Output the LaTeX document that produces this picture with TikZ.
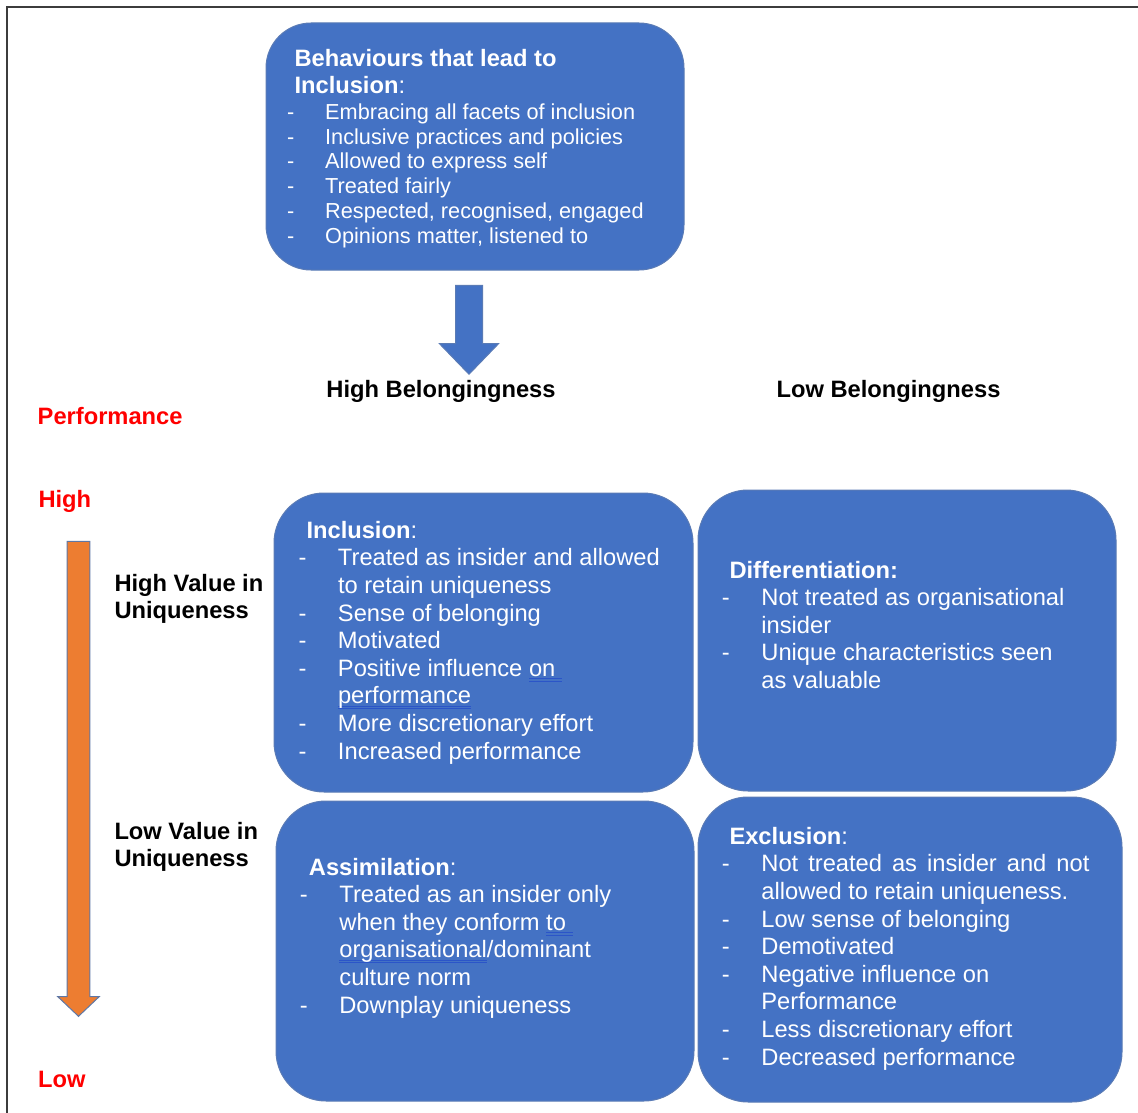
\documentclass[tikz,border=0pt]{standalone}
\usepackage{fontspec}
\setmainfont{Liberation Sans}
\usetikzlibrary{shapes.arrows}
\definecolor{boxblue}{HTML}{4472C4}
\definecolor{boxedge}{HTML}{5A7BB5}
\definecolor{perforange}{HTML}{ED7D31}
\definecolor{perfedge}{HTML}{5E77A6}
\definecolor{gramblue}{HTML}{2B55C8}
\definecolor{framegray}{HTML}{3C3C3C}
\newcommand{\itm}[1][39.5pt]{\makebox[#1][l]{-}}
\newcommand{\cnt}[1][39.5pt]{\hspace*{#1}}
\newlength{\gramw}
\newcommand{\gram}[1]{\settowidth{\gramw}{#1}\rlap{\color{gramblue}\rule[-2.5pt]{\gramw}{0.6pt}\hspace*{-\gramw}\rule[-5pt]{\gramw}{0.6pt}}#1}

\tikzset{
  quad/.style={draw=boxedge, line width=1pt, fill=boxblue, rounded corners=50pt, inner sep=0pt},
  quadtxt/.style={text=white, align=left, inner sep=0pt, anchor=base west, font=\fontsize{23.7}{27.6}\selectfont},
  behtxt/.style={quadtxt, font=\fontsize{21.7}{24.8}\selectfont},
  sidelbl/.style={anchor=base west, inner sep=0pt, align=left, font=\bfseries\fontsize{23.7}{27.5}\selectfont},
  perflbl/.style={sidelbl, text=red},
  colhead/.style={anchor=base, inner sep=0pt, font=\bfseries\fontsize{23.7}{27.5}\selectfont},
  downarrow/.style={single arrow, rotate=-90, anchor=tip, inner xsep=0pt, line width=1pt}
}

\begin{document}
\begin{tikzpicture}[x=1pt,y=-1pt]
\useasboundingbox (0,0) rectangle (1138,1113);
\draw[framegray, line width=1.5pt] (7,1113) -- (7,7) -- (1138,7);

% boxes
\node[quad, rounded corners=45pt, minimum width=418pt, minimum height=247pt] (beh) at (475,146.5) {};
\node[quad, minimum width=419pt, minimum height=299pt] (incl) at (483.5,642.5) {};
\node[quad, minimum width=418pt, minimum height=301pt] (diff) at (907,640.5) {};
\node[quad, minimum width=418pt, minimum height=300pt] (assim) at (485,951) {};
\node[quad, minimum width=424pt, minimum height=305pt] (excl) at (910,949.5) {};

% texts (placed by the baseline of their last line)
\node[quadtxt] (beh-h) at (294.3,94) {\textbf{Behaviours that lead to}\\\textbf{Inclusion}:};
\node[behtxt] (beh-l) at (287,243.3) {\itm[38pt]Embracing all facets of inclusion\\
  \itm[38pt]Inclusive practices and policies\\
  \itm[38pt]Allowed to express self\\
  \itm[38pt]Treated fairly\\
  \itm[38pt]Respected, recognised, engaged\\
  \itm[38pt]Opinions matter, listened to};

\node[quadtxt] (incl-t) at (298.3,759) {\hspace*{8pt}\textbf{Inclusion}:\\
  \itm Treated as insider and allowed\\
  \cnt to retain uniqueness\\
  \itm Sense of belonging\\
  \itm Motivated\\
  \itm Positive influence \gram{on\ }\\
  \cnt\gram{performance}\\
  \itm More discretionary effort\\
  \itm Increased performance};

\node[quadtxt] (diff-t) at (721.7,688.5) {\hspace*{7.6pt}\textbf{Differentiation:}\\
  \itm Not treated as organisational\\
  \cnt insider\\
  \itm Unique characteristics seen\\
  \cnt as valuable};

\node[quadtxt] (assim-t) at (299.7,1013) {\hspace*{9pt}\textbf{Assimilation}:\\
  \itm Treated as an insider only\\
  \cnt when they conform \gram{to\ }\\
  \cnt\gram{organisational}/dominant\\
  \cnt culture norm\\
  \itm Downplay uniqueness};

\node[quadtxt] (excl-t) at (721.7,1065) {\hspace*{7.6pt}\textbf{Exclusion}:\\
  \itm\makebox[328pt][s]{Not treated as insider and not}\\
  \cnt allowed to retain uniqueness.\\
  \itm Low sense of belonging\\
  \itm Demotivated\\
  \itm Negative influence on\\
  \cnt Performance\\
  \itm Less discretionary effort\\
  \itm Decreased performance};

% labels
\node[colhead] (hb) at (441,397) {High Belongingness};
\node[colhead] (lb) at (888.5,397) {Low Belongingness};
\node[perflbl] (perf) at (37.5,424) {Performance};
\node[perflbl] (high) at (38.3,507.3) {High};
\node[perflbl] (low) at (38,1087) {Low};
\node[sidelbl] (hv) at (114.3,618.5) {High Value in\\Uniqueness};
\node[sidelbl] (lv) at (114.3,866.5) {Low Value in\\Uniqueness};

% arrows
\node[downarrow, draw=boxedge, fill=boxblue, inner ysep=13pt, minimum height=89pt,
  single arrow head extend=16pt, single arrow tip angle=88] (toincl) at (469,375) {};
\node[downarrow, draw=perfedge, fill=perforange, inner ysep=10.8pt, minimum height=475pt,
  single arrow head extend=9.5pt, single arrow tip angle=93] (perfarrow) at (78.5,1017) {};

\end{tikzpicture}
\end{document}
